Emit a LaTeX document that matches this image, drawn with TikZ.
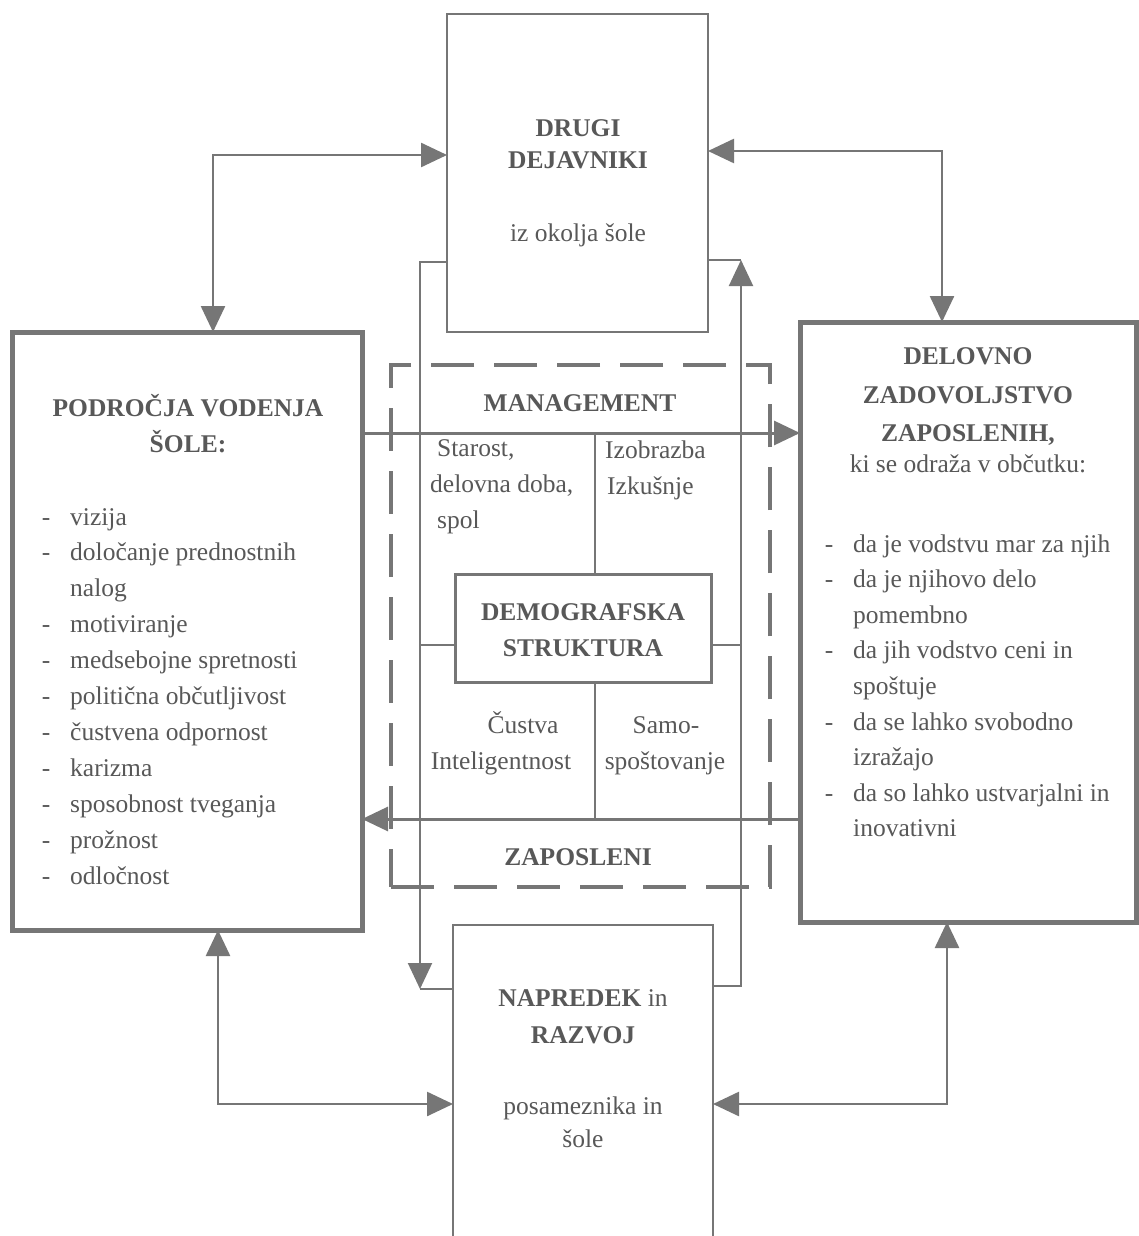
\documentclass[tikz,border=0pt]{standalone}
\usepackage{fontspec}
\setmainfont{Liberation Serif}
\usetikzlibrary{arrows.meta,calc}
\definecolor{lg}{RGB}{118,118,118}
\definecolor{tg}{RGB}{88,88,88}
\begin{document}
\begin{tikzpicture}[x=1pt,y=-1pt,
  box/.style={draw=lg, rectangle, inner sep=0pt, outer sep=0pt},
  conn/.style={draw=lg, line width=2.5pt},
  thin/.style={draw=lg, line width=2pt},
  tipend/.style={-{Triangle[length=26pt,width=24pt]}},
  tipboth/.style={{Triangle[length=26pt,width=24pt]}-{Triangle[length=26pt,width=24pt]}},
  t/.style={text=tg, inner sep=0pt, font=\fontsize{25.5}{30}\selectfont},
  tb/.style={text=tg, inner sep=0pt, font=\fontsize{25.5}{30}\selectfont\bfseries},
]
\useasboundingbox[fill=white] (0,0) rectangle (1139,1236);
\clip (0,0) rectangle (1139,1236);

% boxes
\node[box, line width=2.5pt, minimum width=261pt, minimum height=318pt] (top) at (577.5,173) {};
\node[box, line width=5pt, minimum width=350pt, minimum height=598pt] (left) at (187,631) {};
\node[box, line width=5pt, minimum width=336pt, minimum height=600pt] (right) at (968,622) {};
\node[box, line width=2.5pt, minimum width=260pt, minimum height=350pt] (bottom) at (583,1100) {};
\node[box, line width=3pt, minimum width=256pt, minimum height=108pt] (demo) at (583,628) {};
\node[box, line width=4.5pt, dash pattern=on 43pt off 20pt, minimum width=379pt, minimum height=522pt] (dbox) at (580.5,626) {};

% helper coordinates
\coordinate (tl) at (213,155);
\coordinate (tr) at (942,151);
\coordinate (bl) at (218,1104);
\coordinate (br) at (947,1104);
\coordinate (mg) at (0,433);
\coordinate (zp) at (0,819);
\coordinate (lA) at (420,262);
\coordinate (lB) at (420,989);
\coordinate (rA) at (741,260);
\coordinate (rB) at (741,986);
\coordinate (vx) at (595,0);
\coordinate (hy) at (0,645);

% outer connectors
\draw[conn, tipboth] (top.west |- tl) -| (left.north -| tl);
\draw[conn, tipboth] (top.east |- tr) -| (right.north -| tr);
\draw[conn, tipboth] (bottom.west |- bl) -| (left.south -| bl);
\draw[conn, tipboth] (bottom.east |- br) -| (right.south -| br);

% main horizontal arrows
\draw[draw=lg, line width=3pt, tipend] (left.east |- mg) -- (right.west |- mg);
\draw[draw=lg, line width=3pt, tipend] (right.west |- zp) -- (left.east |- zp);

% loop lines between top and bottom
\draw[thin, tipend] (top.west |- lA) -- (lA) -- (lB);
\draw[thin] (lB) -- (bottom.west |- lB);
\draw[thin, tipend] (bottom.east |- rB) -- (rB) -- (rA);
\draw[thin] (rA) -- (top.east |- rA);

% center cross
\draw[thin] (demo.north -| vx) -- (mg -| vx);
\draw[thin] (demo.south -| vx) -- (zp -| vx);
\draw[thin] (demo.west |- hy) -- (lA |- hy);
\draw[thin] (demo.east |- hy) -- (rA |- hy);

% top box text
\node[tb, anchor=base] (tt1) at (578,136) {DRUGI};
\node[tb, anchor=base] (tt2) at (578,168) {DEJAVNIKI};
\node[t, anchor=base] (tt3) at (578,241) {iz okolja šole};

% left box text
\node[tb, anchor=base] (lt1) at (188,416) {PODROČJA VODENJA};
\node[tb, anchor=base] (lt2) at (188,452) {ŠOLE:};
\foreach \d/\s [count=\i from 0] in {-/vizija, -/določanje prednostnih, {}/nalog, -/motiviranje, -/medsebojne spretnosti, -/politična občutljivost, -/čustvena odpornost, -/karizma, -/sposobnost tveganja, -/prožnost, -/odločnost}{
  \node[t, anchor=base] (ld\i) at (46,{525+35.9*\i}) {\d};
  \node[t, anchor=base west] (li\i) at (70,{525+35.9*\i}) {\s};
}

% right box text
\node[tb, anchor=base] (rt1) at (968,364) {DELOVNO};
\node[tb, anchor=base] (rt2) at (968,403) {ZADOVOLJSTVO};
\node[tb, anchor=base] (rt3) at (968,441) {ZAPOSLENIH,};
\node[t, anchor=base] (rt4) at (968,472) {ki se odraža v občutku:};
\foreach \d/\s [count=\i from 0] in {-/da je vodstvu mar za njih, -/da je njihovo delo, {}/pomembno, -/da jih vodstvo ceni in, {}/spoštuje, -/da se lahko svobodno, {}/izražajo, -/da so lahko ustvarjalni in, {}/inovativni}{
  \node[t, anchor=base] (rd\i) at (829,{552+35.6*\i}) {\d};
  \node[t, anchor=base west] (ri\i) at (853,{552+35.6*\i}) {\s};
}

% center text
\node[tb, anchor=base] (mgt) at (580,411) {MANAGEMENT};
\node[tb, anchor=base] (zpt) at (578,865) {ZAPOSLENI};
\node[tb, anchor=base] (dm1) at (583,620) {DEMOGRAFSKA};
\node[tb, anchor=base] (dm2) at (583,656) {STRUKTURA};
\node[t, anchor=base west] (q1) at (437,456) {Starost,};
\node[t, anchor=base west] (q2) at (430,492) {delovna doba,};
\node[t, anchor=base west] (q3) at (437,528) {spol};
\node[t, anchor=base west] (q4) at (605,458) {Izobrazba};
\node[t, anchor=base west] (q5) at (607,494) {Izkušnje};
\node[t, anchor=base] (q6) at (523,733) {Čustva};
\node[t, anchor=base] (q7) at (501,769) {Inteligentnost};
\node[t, anchor=base] (q8) at (666,733) {Samo-};
\node[t, anchor=base] (q9) at (665,769) {spoštovanje};

% bottom box text
\node[t, anchor=base] (bt1) at (583,1006) {\textbf{NAPREDEK} in};
\node[tb, anchor=base] (bt2) at (583,1043) {RAZVOJ};
\node[t, anchor=base] (bt3) at (583,1114) {posameznika in};
\node[t, anchor=base] (bt4) at (583,1147) {šole};
\end{tikzpicture}
\end{document}
